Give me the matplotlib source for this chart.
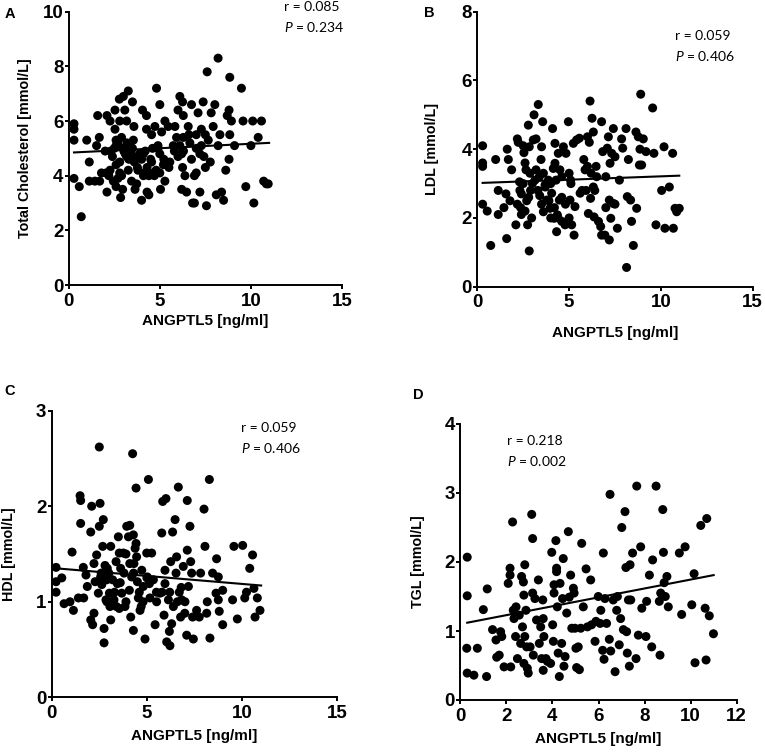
import matplotlib
matplotlib.use("Agg")
import matplotlib.pyplot as plt

plt.rcParams['mathtext.fontset'] = 'custom'
plt.rcParams['mathtext.rm'] = 'Lato'
plt.rcParams['mathtext.it'] = 'Lato:italic'

# ---------------- data ----------------
A_x = [0.29,0.29,0.29,0.29,0.58,0.69,0.99,1.13,1.13,1.44,
       1.59,1.53,1.68,1.7,1.8,2.0,2.1,2.1,2.27,2.27,
       2.05,2.4,2.45,2.54,2.54,2.6,2.6,2.6,2.78,2.8,
       2.8,2.8,2.85,2.96,3.0,3.08,3.27,3.18,3.03,3.18,
       3.27,3.36,3.45,3.5,3.58,3.55,3.58,3.64,3.73,3.77,
       4.0,4.05,4.1,4.13,4.27,4.27,4.3,4.4,4.55,4.55,
       4.64,4.73,4.82,4.9,5.0,5.0,5.04,5.1,5.22,5.28,
       5.28,5.46,5.55,5.74,5.83,5.92,6.0,6.1,6.1,6.2,
       6.2,6.25,6.29,6.29,6.25,6.38,6.47,6.56,6.65,6.74,
       6.74,6.8,6.9,7.0,7.1,7.2,7.28,7.28,7.38,7.42,
       7.56,7.6,7.66,7.77,7.82,7.93,8.02,8.1,8.2,8.2,
       8.3,8.39,8.5,8.62,8.7,8.8,8.8,8.84,8.84,8.93,
       9.1,9.48,9.57,9.72,10.0,10.1,10.16,10.4,10.58,10.7,
       10.85,10.95,
       2.3,2.5,2.7,2.9,3.0,3.1,3.2,3.4,3.6,3.8,
       4.0,4.2,4.3,4.4,4.5,4.6,4.8,4.9,5.0,5.2,
       3.5,3.9,2.6,2.9,2.2,3.3,4.1,4.7,5.5,5.8,
       6.0,6.3,6.6,7.0,7.2,7.5,7.0,6.9,7.5,2.7]
A_y = [5.9,5.7,5.3,3.9,3.6,2.5,5.3,4.5,3.8,3.8,
       6.2,5.1,5.4,3.8,4.1,4.9,6.2,3.4,6.0,4.2,
       4.1,4.7,3.8,6.4,5.7,5.3,5.1,3.6,6.8,6.0,
       4.5,4.1,3.2,3.5,6.9,6.4,7.1,6.0,4.9,4.7,
       4.2,5.1,3.8,6.7,5.8,5.3,4.7,3.5,3.7,4.3,
       3.1,6.4,4.8,4.1,6.2,5.7,3.4,3.3,5.5,4.5,
       4.1,5.8,7.2,5.1,6.6,4.1,3.5,5.6,4.6,3.8,
       6.0,5.8,4.5,5.1,5.8,5.4,6.4,6.9,5.1,4.8,
       3.5,6.7,6.2,5.4,4.3,4.0,3.4,5.8,5.2,6.6,
       4.6,3.0,3.0,4.1,6.3,3.4,5.7,5.1,6.7,4.7,
       2.9,7.8,5.3,4.5,6.3,5.8,6.6,3.3,8.3,5.1,
       5.5,3.4,3.1,4.2,6.2,6.4,4.6,7.6,5.5,6.0,
       5.1,7.2,6.0,3.6,5.1,6.0,3.0,5.4,6.0,3.8,
       3.7,3.7,
       4.9,5.0,5.2,5.4,5.0,4.8,5.2,4.9,4.5,4.2,
       4.6,4.9,4.3,4.0,4.6,5.0,4.2,5.0,4.8,4.4,
       5.0,4.8,4.4,4.0,4.0,4.6,4.0,4.0,4.3,4.9,
       4.7,4.9,5.5,5.0,4.8,5.5,5.5,4.0,4.3,3.9]
A_fit_x = [0.29, 11.0]
A_fit_y = [4.85, 5.2]

B_x = [0.29,0.29,0.29,0.29,0.54,0.73,1.0,1.14,1.14,1.45,
       1.56,1.6,1.63,1.69,1.87,1.78,2.1,2.18,2.18,2.23,
       2.3,2.32,2.36,2.4,2.5,2.54,2.6,2.65,2.69,2.74,
       2.78,2.83,2.83,2.87,2.9,2.96,3.05,3.09,3.14,3.2,
       3.32,3.38,3.4,3.47,3.5,3.56,3.6,3.69,3.78,3.87,
       3.96,4.05,4.1,4.14,4.18,4.23,4.23,4.29,4.32,4.36,
       4.41,4.47,4.5,4.6,4.69,4.78,4.83,4.96,5.0,5.05,
       5.08,5.14,5.23,5.27,5.32,5.41,5.56,5.6,5.8,5.87,
       5.92,6.0,6.05,6.1,6.14,6.17,6.25,6.32,6.32,6.36,
       6.47,6.5,6.6,6.72,6.77,6.77,6.83,6.95,7.0,7.08,
       7.14,7.19,7.19,7.23,7.27,7.32,7.41,7.41,7.5,7.63,
       7.74,7.86,7.92,8.1,8.13,8.17,8.23,8.35,8.4,8.5,
       8.64,8.68,8.77,8.83,8.86,8.9,8.95,9.04,9.19,9.55,
       9.62,9.73,10.04,10.17,10.22,10.46,10.64,10.68,10.77,10.86,
       11.0,
       2.4,2.6,2.8,3.0,3.3,3.5,3.7,3.9,4.0,4.2,
       4.4,4.6,4.8,5.0,3.2,3.6,4.0,4.6,5.1,2.5,
       6.0,6.2,6.4,5.7,7.5,7.0]
B_y = [4.1,3.6,3.5,2.4,2.2,1.2,3.7,2.8,2.1,2.3,
       2.7,1.4,4.0,3.7,3.4,2.5,1.8,4.3,2.4,4.2,
       3.05,2.8,2.3,2.1,4.1,3.9,3.6,3.4,2.5,1.8,
       4.7,1.04,4.07,3.3,2.8,2.0,4.27,5.0,3.1,4.3,
       5.3,3.2,2.65,3.7,4.07,4.8,2.18,2.96,2.52,3.1,
       2.28,2.72,4.6,3.44,1.99,4.17,3.59,3.1,1.6,2.09,
       3.88,2.52,3.4,1.9,4.07,1.8,3.88,4.8,3.3,2.52,
       3.1,1.8,4.17,1.5,2.33,4.27,4.32,2.72,3.7,3.4,
       2.8,4.36,2.13,4.2,5.4,2.57,4.9,4.5,2.9,2.03,
       3.5,3.2,1.9,1.75,4.8,1.5,3.93,1.5,3.2,4.03,
       4.36,2.52,1.36,3.59,1.99,3.88,4.6,2.42,3.78,1.7,
       3.1,4.3,4.03,4.6,0.56,2.62,3.7,2.52,1.9,1.2,
       4.5,2.28,4.36,3.54,4.0,5.6,3.54,4.3,3.93,5.2,
       3.88,1.8,2.8,4.07,1.7,2.9,3.88,1.7,2.28,2.18,
       2.28,
       2.7,2.2,2.6,3.0,2.8,2.4,2.9,2.5,2.0,2.3,
       2.0,2.6,2.4,2.0,3.4,3.3,3.0,3.2,3.0,3.0,
       3.5,3.3,2.8,2.8,2.4,2.3]
B_fit_x = [0.29, 11.0]
B_fit_y = [3.02, 3.23]

C_x = [0.23,0.23,0.23,0.53,0.65,0.96,1.07,1.14,1.4,1.49,
       1.52,1.52,1.66,1.68,1.8,1.87,2.05,2.1,2.05,2.15,
       2.22,2.22,2.28,2.36,2.45,2.5,2.5,2.54,2.57,2.63,
       2.68,2.71,2.75,2.75,2.8,2.85,2.89,2.92,3.03,3.06,
       3.1,3.1,3.2,3.27,3.38,3.45,3.5,3.55,3.55,3.62,
       3.68,3.76,3.8,3.85,3.94,4.03,4.08,4.1,4.15,4.2,
       4.25,4.29,4.29,4.32,4.38,4.43,4.43,4.46,4.5,4.55,
       4.64,4.73,4.81,4.9,4.99,5.02,5.08,5.13,5.16,5.25,
       5.34,5.43,5.51,5.69,5.78,5.83,5.9,5.95,5.95,6.0,
       6.04,6.13,6.18,6.21,6.25,6.3,6.35,6.39,6.48,6.53,
       6.56,6.65,6.7,6.77,6.83,6.91,6.99,7.09,7.12,7.12,
       7.18,7.26,7.3,7.35,7.4,7.44,7.61,7.75,7.82,8.0,
       8.05,8.14,8.17,8.28,8.31,8.45,8.63,8.66,8.75,8.75,
       8.8,8.98,8.98,9.5,9.57,9.75,10.03,10.14,10.23,10.4,
       10.55,10.62,10.68,10.8,10.94,
       2.6,3.0,3.3,3.6,3.9,4.1,4.3,4.6,4.8,5.0,
       4.7,3.4,2.9,3.9,6.2,6.6,5.8,7.0,5.5,6.8]
C_y = [1.36,1.21,1.1,1.25,0.98,1.0,1.52,0.91,1.04,2.11,
       2.06,1.82,1.36,1.04,1.28,1.16,1.73,2.0,0.81,0.76,
       0.88,1.4,1.21,1.49,1.09,2.62,1.79,2.03,1.26,1.18,
       1.58,1.86,0.72,0.57,1.38,1.02,1.23,1.35,1.09,0.95,
       1.58,0.81,1.23,1.02,1.42,1.19,1.68,1.51,0.93,1.35,
       1.09,1.51,1.3,0.95,1.79,1.68,1.12,1.8,0.84,1.26,
       2.55,1.7,0.7,1.4,1.56,2.19,1.61,1.47,1.21,1.04,
       0.91,1.33,1.16,0.61,1.51,1.26,2.28,1.19,1.04,1.51,
       1.23,0.76,1.0,1.09,1.72,2.05,0.86,1.33,1.19,2.08,
       0.58,1.02,0.69,0.54,1.42,0.77,1.73,0.95,1.86,1.3,
       1.47,2.2,1.1,0.84,1.02,1.37,0.88,0.65,2.06,1.54,
       1.16,1.79,1.42,1.3,0.84,0.61,0.91,0.84,1.3,1.97,
       1.58,0.88,1.0,2.28,0.62,1.3,1.09,1.45,1.26,1.02,
       0.9,1.12,0.76,1.02,1.58,0.82,1.59,1.04,1.1,1.35,
       1.49,1.14,0.84,1.04,0.91,
       1.3,1.3,1.1,1.2,1.0,1.4,1.3,1.1,1.0,1.25,
       0.95,0.95,1.0,1.5,1.1,1.0,1.1,1.0,1.1,1.15]
C_fit_x = [0.23, 11.0]
C_fit_y = [1.35, 1.17]

D_x = [0.3,0.3,0.28,0.3,0.59,0.74,1.0,1.14,1.17,1.4,
       1.55,1.58,1.69,1.75,1.8,1.9,2.08,2.16,2.16,2.19,
       2.27,2.3,2.33,2.4,2.42,2.48,2.56,2.62,2.66,2.7,
       2.74,2.76,2.76,2.8,2.8,2.85,2.88,2.91,2.95,3.03,
       3.1,3.14,3.14,3.17,3.24,3.31,3.39,3.43,3.49,3.53,
       3.58,3.6,3.6,3.63,3.72,3.78,3.92,3.97,4.01,4.04,
       4.07,4.07,4.15,4.18,4.18,4.21,4.25,4.3,4.33,4.4,
       4.44,4.47,4.5,4.55,4.62,4.69,4.73,4.79,4.84,4.91,
       4.94,4.98,5.02,5.05,5.12,5.17,5.23,5.27,5.34,5.46,
       5.52,5.66,5.7,5.85,5.89,5.99,6.07,6.1,6.18,6.21,
       6.24,6.28,6.35,6.47,6.5,6.53,6.64,6.72,6.79,6.82,
       6.9,6.96,7.01,7.08,7.15,7.19,7.22,7.25,7.3,7.34,
       7.37,7.4,7.48,7.63,7.66,7.73,7.83,7.88,8.06,8.09,
       8.21,8.31,8.35,8.5,8.64,8.67,8.7,8.79,8.82,8.85,
       8.9,8.97,9.03,9.51,9.61,9.76,10.05,10.15,10.19,10.44,
       10.63,10.67,10.7,10.81,10.99]
D_y = [2.07,1.51,0.75,0.39,0.36,0.75,1.31,0.34,1.61,1.02,
       0.87,0.62,0.65,0.99,0.92,0.48,1.69,1.91,1.81,0.48,
       2.58,1.3,1.18,0.92,1.35,0.6,1.23,0.82,1.79,1.06,
       1.71,1.52,0.53,1.96,0.92,1.3,0.77,0.46,0.39,0.77,
       2.69,2.34,1.55,0.65,1.47,1.16,1.74,0.82,1.06,0.6,
       1.45,0.43,1.18,0.92,0.6,0.56,0.53,2.14,1.09,0.85,
       1.67,1.55,2.31,1.91,1.86,1.35,0.68,0.34,1.69,0.82,
       1.47,2.05,0.49,0.63,1.26,2.44,1.49,1.81,1.04,1.62,
       1.55,1.04,0.75,0.47,0.77,0.44,1.04,2.27,1.35,1.9,
       1.06,1.74,1.09,0.85,1.14,1.5,1.11,1.3,0.72,2.13,
       0.59,1.47,1.11,0.88,2.98,0.71,1.45,0.41,1.3,1.5,
       0.8,1.18,2.5,1.02,2.73,1.92,0.99,0.68,1.45,0.49,
       1.96,1.45,2.13,0.6,3.1,0.94,2.22,1.33,0.92,1.43,
       1.81,0.77,2.03,3.1,1.43,0.65,1.55,2.76,2.14,1.7,
       1.5,1.79,1.35,2.13,1.24,2.22,1.38,1.83,0.54,2.53,
       1.33,0.58,2.63,1.22,0.96]
D_fit_x = [0.3, 11.0]
D_fit_y = [1.12, 1.81]

x_label = "ANGPTL5 [ng/ml]"
y_labels = ["Total Cholesterol [mmol/L]", "LDL [mmol/L]", "HDL [mmol/L]", "TGL [mmol/L]"]
letters = ["A", "B", "C", "D"]
r_texts = ["r = 0.085", "r = 0.059", "r = 0.059", "r = 0.218"]
p_texts = [r"$\it{P}$ = 0.234", r"$\it{P}$ = 0.406", r"$\it{P}$ = 0.406", r"$\it{P}$ = 0.002"]

# ---------------- figure ----------------
W, H = 765, 753
fig = plt.figure(figsize=(W/100, H/100), dpi=100)

def fx(px):
    return px / W

def fy(py):
    return 1 - py / H

TICKFONT = dict(family='Liberation Sans', weight='bold', size=13.5)
XLABFONT = dict(family='Liberation Sans', weight='bold', size=11)
YLABFONT = dict(family='Liberation Sans', weight='bold', size=10.3)

panels = [
    dict(box=(68.7, 11.7, 342, 285), x=A_x, y=A_y, fitx=A_fit_x, fity=A_fit_y,
         xmax=15, xt=[0, 5, 10, 15], ymax=10, yt=[0, 2, 4, 6, 8, 10],
         letter=(10, 14), ann=(284, 7, 27), xlab=321, ylab=25),
    dict(box=(477.3, 11.7, 752.7, 286.7), x=B_x, y=B_y, fitx=B_fit_x, fity=B_fit_y,
         xmax=15, xt=[0, 5, 10, 15], ymax=8, yt=[0, 2, 4, 6, 8],
         letter=(429, 13), ann=(675, 36, 56), xlab=333, ylab=432),
    dict(box=(51.7, 410.7, 337.3, 697.3), x=C_x, y=C_y, fitx=C_fit_x, fity=C_fit_y,
         xmax=15, xt=[0, 5, 10, 15], ymax=3, yt=[0, 1, 2, 3],
         letter=(10, 391), ann=(241, 428, 448), xlab=736, ylab=9),
    dict(box=(460.3, 424, 736.7, 700), x=D_x, y=D_y, fitx=D_fit_x, fity=D_fit_y,
         xmax=12, xt=[0, 2, 4, 6, 8, 10, 12], ymax=4, yt=[0, 1, 2, 3, 4],
         letter=(418, 395), ann=(507, 441, 461), xlab=739, ylab=418),
]

for i, p in enumerate(panels):
    l, t, r, b = p['box']
    ax = fig.add_axes([fx(l), fy(b), (r - l) / W, (b - t) / H])
    ax.scatter(p['x'], p['y'], s=42, color='black', edgecolors='none', clip_on=False, zorder=3)
    ax.plot(p['fitx'], p['fity'], color='black', lw=1.5, zorder=4)
    ax.set_xlim(0, p['xmax'])
    ax.set_ylim(0, p['ymax'])
    ax.set_xticks(p['xt'])
    ax.set_yticks(p['yt'])
    ax.set_xticklabels([str(v) for v in p['xt']], fontdict=TICKFONT)
    ax.set_yticklabels([str(v) for v in p['yt']], fontdict=TICKFONT)
    for s in ['top', 'right']:
        ax.spines[s].set_visible(False)
    for s in ['left', 'bottom']:
        ax.spines[s].set_linewidth(1.4)
    ax.tick_params(axis='both', direction='out', length=3, width=1.4, color='black')
    ax.tick_params(axis='x', pad=2.5)
    ax.tick_params(axis='y', pad=0.8)
    ax.patch.set_visible(False)

    fig.text(fx(l + (r - l) / 2), fy(p['xlab']), x_label, ha='center', va='center', **XLABFONT)
    fig.text(fx(p['ylab']), fy(t + (b - t) / 2), y_labels[i], ha='center', va='center',
             rotation=90, **YLABFONT)
    fig.text(fx(p['letter'][0]), fy(p['letter'][1]), letters[i], ha='center', va='center',
             family='Liberation Sans', weight='bold', size=10.5)
    ax_x, ry, py = p['ann']
    fig.text(fx(ax_x), fy(ry), r_texts[i], ha='left', va='center', family='Lato', size=10)
    fig.text(fx(ax_x), fy(py), p_texts[i], ha='left', va='center', family='Lato', size=10)

fig.savefig("out.png", dpi=100, facecolor='white')
